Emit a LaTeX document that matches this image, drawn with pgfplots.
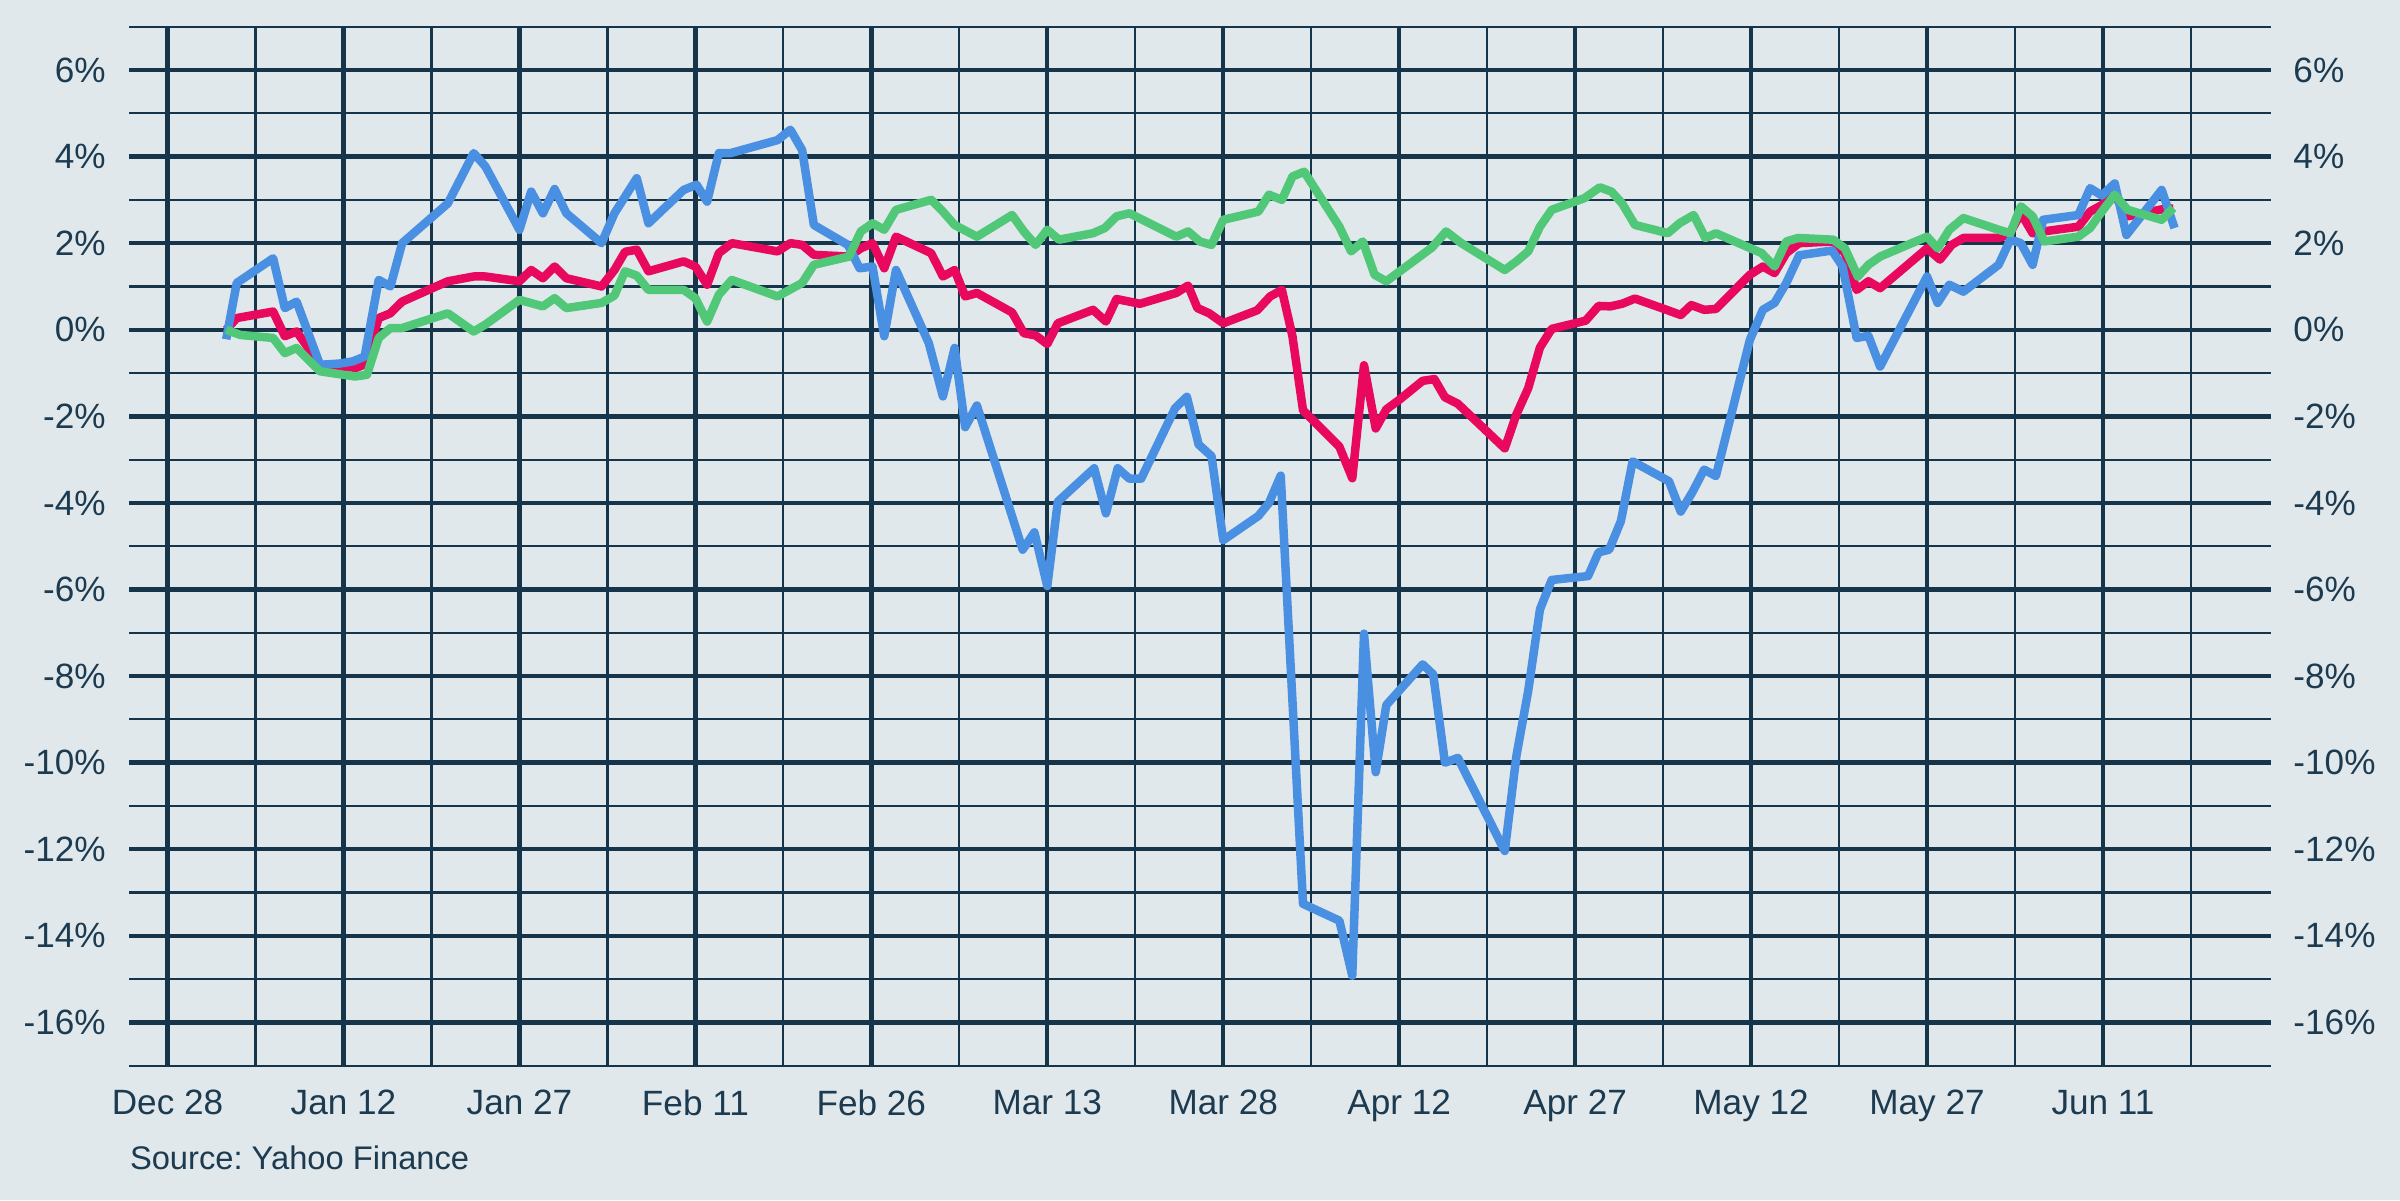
\documentclass[border=0pt]{standalone}
\usepackage{pgfplots}
\pgfplotsset{compat=1.18}
\usepackage{fontspec}
\setmainfont{Liberation Sans}
\definecolor{bgc}{HTML}{E0E8EB}
\definecolor{gridc}{HTML}{16344A}
\definecolor{txtc}{HTML}{1C3A50}
\definecolor{cblue}{HTML}{4A90E2}
\definecolor{cred}{HTML}{E8095E}
\definecolor{cgreen}{HTML}{50C878}
\pgfplotsset{
  common/.style={
    at={(12.93mm,13.43mm)}, anchor=south west,
    scale only axis, width=214.14mm, height=103.9mm,
    xmin=-3.26, xmax=179.3, ymin=-17, ymax=7,
    axis line style={draw=none},
    major tick length=0pt, minor tick length=0pt,
    tick label style={font=\fontsize{10}{12}\selectfont, text=txtc, inner sep=0pt},
    ytick={-16,-14,...,6},
    yticklabels={-16\%,-14\%,-12\%,-10\%,-8\%,-6\%,-4\%,-2\%,0\%,2\%,4\%,6\%},
  },
  series/.style={line width=0.85mm, line join=round},
}
\begin{document}
\begin{tikzpicture}
\fill[bgc] (0,0) rectangle (240mm,120mm);
\begin{axis}[common,
 xtick={0,15,...,165},
 xticklabels={Dec 28,Jan 12,Jan 27,Feb 11,Feb 26,Mar 13,Mar 28,Apr 12,Apr 27,May 12,May 27,Jun 11},
 minor xtick={7.5,22.5,...,172.5},
 minor ytick={-17,-15,...,7},
 grid=both,
 major grid style={line width=0.44mm, draw=gridc},
 minor grid style={line width=0.22mm, draw=gridc},
 xticklabel style={anchor=north, yshift=-2.4mm},
 yticklabel style={anchor=east, xshift=-2.3mm},
]
\addplot[cred, series] coordinates {
(5.0,0.0)(5.9,0.27)(9.0,0.42)(10.0,-0.15)(11.0,-0.04)(13.0,-0.81)(16.1,-0.88)(16.8,-0.8)
(18.0,0.27)(19.0,0.38)(20.0,0.65)(23.9,1.12)(26.1,1.23)(27.1,1.23)(30.0,1.12)(31.0,1.38)
(32.0,1.19)(33.0,1.46)(34.0,1.19)(37.0,1.0)(38.1,1.38)(39.0,1.8)(40.0,1.85)(41.0,1.35)
(44.0,1.58)(45.0,1.46)(46.0,1.04)(47.0,1.77)(48.1,2.0)(52.0,1.81)(53.1,2.0)(54.1,1.96)
(55.1,1.73)(58.1,1.69)(59.1,1.88)(60.1,2.0)(61.1,1.42)(62.1,2.15)(65.1,1.77)(66.1,1.23)
(67.1,1.38)(68.0,0.77)(69.0,0.85)(72.0,0.4)(73.0,-0.08)(74.0,-0.13)(75.0,-0.33)(75.9,0.15)
(78.9,0.46)(80.0,0.19)(80.9,0.71)(82.9,0.6)(86.0,0.85)(87.0,1.02)(87.8,0.5)(88.8,0.38)
(90.0,0.15)(92.9,0.45)(94.0,0.77)(95.0,0.92)(95.9,-0.15)(96.8,-1.86)(99.9,-2.7)(101.0,-3.43)
(102.0,-0.82)(103.0,-2.28)(103.9,-1.84)(105.0,-1.62)(107.0,-1.18)(108.0,-1.14)(108.9,-1.56)
(110.0,-1.71)(114.0,-2.74)(115.0,-1.95)(116.0,-1.35)(117.0,-0.41)(118.0,0.02)(120.9,0.21)
(122.0,0.55)(123.0,0.54)(124.0,0.6)(125.1,0.72)(128.0,0.44)(129.0,0.34)(129.9,0.57)
(131.0,0.46)(132.0,0.48)(134.9,1.27)(136.0,1.46)(137.0,1.31)(138.0,1.77)(139.1,2.0)
(142.0,2.04)(143.0,1.77)(144.0,0.92)(145.0,1.12)(146.0,0.96)(150.0,1.88)(151.1,1.62)
(152.1,1.96)(153.1,2.12)(156.1,2.12)(157.0,2.2)(158.0,2.69)(159.0,2.23)(159.9,2.27)
(162.9,2.38)(163.9,2.73)(164.9,2.88)(166.0,3.1)(167.1,2.62)(170.0,2.78)(171.0,2.8)
};
\addplot[cblue, series] coordinates {
(5.0,-0.22)(5.9,1.08)(9.0,1.65)(10.0,0.5)(11.0,0.65)(13.0,-0.81)(14.7,-0.78)(15.8,-0.73)
(16.8,-0.62)(18.0,1.15)(19.0,1.0)(20.0,2.0)(23.9,2.92)(26.1,4.08)(27.1,3.77)(30.0,2.31)
(31.0,3.19)(32.0,2.69)(33.0,3.25)(34.0,2.69)(37.0,2.0)(38.1,2.69)(40.0,3.5)(41.0,2.46)
(44.0,3.23)(45.1,3.35)(46.0,2.96)(47.0,4.08)(48.0,4.08)(52.0,4.38)(53.1,4.62)(54.1,4.15)
(55.1,2.42)(58.0,1.96)(59.0,1.42)(60.1,1.46)(61.1,-0.15)(62.1,1.38)(64.9,-0.31)(66.1,-1.54)
(67.1,-0.42)(68.0,-2.25)(69.0,-1.75)(72.9,-5.08)(73.9,-4.68)(75.0,-5.92)(75.9,-3.97)
(79.0,-3.2)(80.0,-4.24)(81.0,-3.2)(82.0,-3.44)(83.0,-3.44)(85.9,-1.81)(86.9,-1.55)
(87.9,-2.65)(89.0,-2.92)(90.0,-4.86)(93.0,-4.3)(93.9,-4.0)(94.9,-3.37)(96.8,-13.26)
(99.9,-13.65)(101.0,-14.92)(102.0,-7.02)(103.0,-10.22)(103.9,-8.67)(107.0,-7.73)
(107.9,-7.96)(108.9,-10.0)(110.0,-9.89)(114.0,-12.04)(115.0,-9.83)(116.0,-8.34)
(117.0,-6.46)(118.0,-5.78)(121.1,-5.69)(122.0,-5.14)(122.9,-5.08)(123.9,-4.42)(124.9,-3.04)
(128.0,-3.5)(129.0,-4.2)(130.0,-3.75)(131.0,-3.23)(132.0,-3.38)(134.9,-0.23)(136.0,0.46)
(137.0,0.62)(138.0,1.08)(139.1,1.72)(141.9,1.83)(142.8,1.46)(144.0,-0.19)(145.0,-0.14)
(146.0,-0.85)(150.0,1.23)(150.9,0.62)(151.9,1.04)(153.1,0.88)(156.1,1.5)(157.1,2.08)
(158.0,2.0)(159.0,1.5)(159.9,2.54)(162.9,2.65)(163.9,3.27)(164.9,3.1)(166.0,3.38)
(167.0,2.19)(170.0,3.23)(171.1,2.35)
};
\addplot[cgreen, series] coordinates {
(5.0,0.0)(6.2,-0.12)(9.0,-0.19)(10.0,-0.54)(11.0,-0.42)(13.0,-0.96)(16.0,-1.08)(17.0,-1.04)
(18.0,-0.19)(19.0,0.04)(20.0,0.04)(23.9,0.38)(26.1,-0.04)(27.1,0.12)(30.0,0.69)(32.0,0.54)
(33.0,0.73)(34.0,0.5)(37.0,0.62)(38.1,0.79)(39.0,1.35)(40.0,1.25)(41.0,0.92)(44.0,0.92)
(45.0,0.73)(46.0,0.19)(47.0,0.81)(48.1,1.15)(52.0,0.77)(54.1,1.08)(55.1,1.5)(58.1,1.69)
(59.1,2.27)(60.1,2.46)(61.1,2.31)(62.1,2.77)(65.1,3.0)(66.1,2.73)(67.1,2.42)(69.0,2.15)
(72.0,2.65)(73.0,2.27)(74.0,1.96)(75.0,2.31)(76.0,2.08)(78.9,2.23)(79.9,2.35)(80.9,2.62)
(82.0,2.69)(86.0,2.15)(87.0,2.27)(88.0,2.04)(89.0,1.96)(90.0,2.54)(93.0,2.73)(93.9,3.12)
(95.0,3.0)(95.9,3.54)(96.9,3.65)(99.9,2.38)(100.9,1.81)(101.9,2.04)(102.9,1.27)(103.9,1.12)
(107.8,1.9)(109.0,2.27)(110.3,2.0)(114.0,1.38)(115.0,1.58)(116.0,1.81)(117.0,2.38)
(118.0,2.77)(120.8,3.04)(122.1,3.29)(123.1,3.19)(124.0,2.92)(125.1,2.42)(127.9,2.23)
(128.9,2.46)(130.1,2.65)(131.1,2.12)(132.0,2.23)(135.9,1.77)(137.0,1.46)(138.0,2.04)
(139.0,2.12)(142.0,2.08)(143.0,1.88)(144.1,1.23)(145.0,1.5)(146.0,1.69)(150.0,2.15)
(150.9,1.88)(151.9,2.31)(153.1,2.58)(156.1,2.31)(157.1,2.23)(158.0,2.85)(159.0,2.62)
(160.0,2.04)(162.9,2.15)(163.9,2.35)(164.9,2.73)(166.0,3.12)(167.1,2.77)(170.0,2.54)
(171.0,2.81)
};
\end{axis}
\begin{axis}[common,
 axis y line*=right, axis x line=none,
 xtick=\empty,
 yticklabel style={anchor=west, xshift=2.2mm},
]
\end{axis}
\node[anchor=base west, inner sep=0pt, text=txtc, font=\fontsize{9.3}{11}\selectfont] at (12.93mm,3.1mm) {\frenchspacing Source: Yahoo Finance};
\end{tikzpicture}
\end{document}
